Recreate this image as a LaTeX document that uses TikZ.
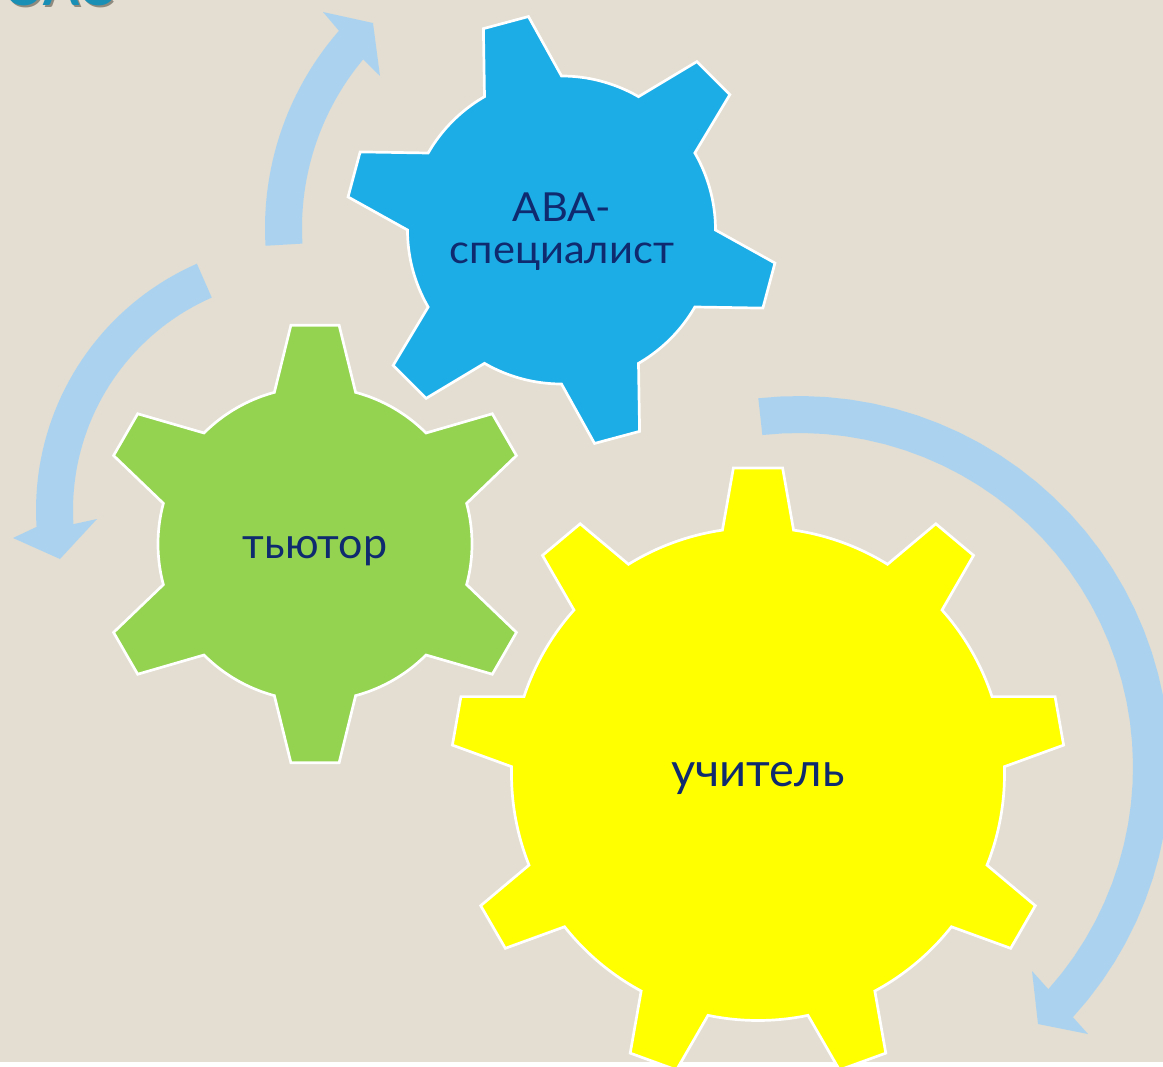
\documentclass[tikz,border=0pt]{standalone}
\usepackage{fontspec}
\setmainfont{Lato}
\newfontfamily\widefont[FakeStretch=1.04]{Lato}
\definecolor{bgc}{HTML}{E3DED1}
\definecolor{arrowc}{HTML}{ABD3F0}
\definecolor{bluec}{HTML}{1DADE6}
\definecolor{greenc}{HTML}{93D350}
\definecolor{yellowc}{HTML}{FFFF00}
\definecolor{inkc}{HTML}{0F2A6E}
\definecolor{tealc}{HTML}{1A8FB5}
\definecolor{shadowc}{HTML}{8F8A7E}
\tikzset{
  gearshape/.style={draw=white,line width=2.7pt,line join=miter},
  cyclearrow/.style={fill=arrowc,draw=none},
  geartext/.style={text=inkc,align=center,inner sep=0pt},
  titlefrag/.style={font=\fontsize{52}{56}\selectfont\bfseries,inner sep=0pt,anchor=base east}
}
% centre x, y, root radius, tooth radius, period, first tooth angle, half root gap, half tip, last index
\newcommand{\gearfig}[9]{%
  ({#1+#3*cos(#6-#7)},{#2+#3*sin(#6-#7)})
  \foreach \k in {0,...,#9}{
    -- ({#1+#4*cos(#6+\k*#5-#8)},{#2+#4*sin(#6+\k*#5-#8)})
    -- ({#1+#4*cos(#6+\k*#5+#8)},{#2+#4*sin(#6+\k*#5+#8)})
    -- ({#1+#3*cos(#6+\k*#5+#7)},{#2+#3*sin(#6+\k*#5+#7)})
    -- plot[smooth,domain={#6+\k*#5+#7}:{#6+\k*#5+#5-#7},samples=16,variable=\t]
       ({#1+#3*cos(\t)},{#2+#3*sin(\t)})
  } -- cycle}
% centre x,y, outer r, inner r, start, outer end, inner end, then barb, tip, barb
\newcommand{\cyclefig}[9]{%
  plot[domain=#5:#6,samples=40,variable=\t]({#1+#3*cos(\t)},{#2+#3*sin(\t)})
  -- #8
  -- plot[domain=#7:#5,samples=40,variable=\t]({#1+#4*cos(\t)},{#2+#4*sin(\t)})
  -- cycle}
\begin{document}
\begin{tikzpicture}[x=1pt,y=-1pt]
\useasboundingbox (0,0) rectangle (1163,1067);
\begin{scope}
\clip (0,0) rectangle (1163,1067);
\fill[bgc] (0,0) rectangle (1163,1062);
% cut-off title at the top edge
\node[titlefrag,text=shadowc] (titleshadow) at (115,7.5) {ЭАС};
\node[titlefrag,text=tealc] (title) at (113,5.5) {ЭАС};
% arrows
\fill[cyclearrow] \cyclefig{565}{228}{300}{263}{176.6}{221.1}{219.9}{(323,12) -- (373,23) -- (380,76)}{};
\fill[cyclearrow] \cyclefig{305}{510}{269}{232}{246.3}{176.4}{176.5}{(13,538) -- (60,559) -- (97,519)}{};
\fill[cyclearrow] \cyclefig{799}{767}{371}{334}{-96.3}{42.4}{41.7}{(1088,1034) -- (1038,1024) -- (1032,971)}{};
% gears
\path[gearshape,fill=bluec] \gearfig{561.5}{230}{154}{216}{60}{-45}{15}{6.2}{5};
\path[gearshape,fill=greenc] \gearfig{315}{544}{157}{220}{60}{-90}{15}{6.3}{5};
\path[gearshape,fill=yellowc] \gearfig{758}{774}{246.5}{307}{40}{-90}{8.3}{4.6}{8};
\end{scope}
\node[geartext,font=\widefont\fontsize{40}{42}\selectfont] (ava) at (562,232) {АВА-\\специалист};
\node[geartext,font=\fontsize{43}{46}\selectfont] (tutor) at (315,551) {тьютор};
\node[geartext,font=\fontsize{47}{52}\selectfont] (teacher) at (758,778) {учитель};
\end{tikzpicture}
\end{document}
